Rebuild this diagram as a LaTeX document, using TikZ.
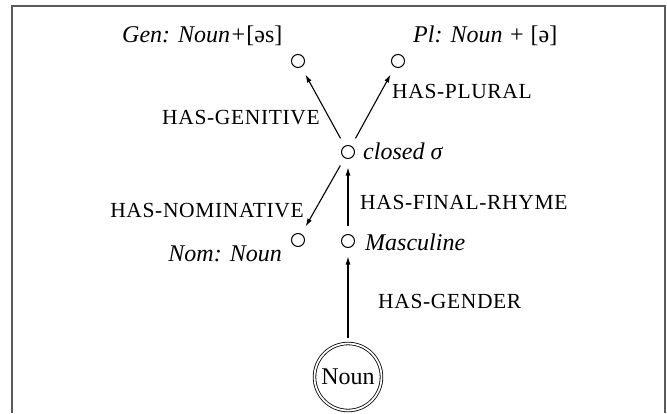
\documentclass[tikz,border=0pt]{standalone}
\usepackage{fontspec}
\setmainfont{Liberation Serif}
\newfontfamily\relfont[LetterSpace=3]{Liberation Serif}
\usetikzlibrary{arrows.meta}

\definecolor{framegray}{HTML}{5A5A5A}

\tikzset{
  state/.style={circle, draw, line width=1pt, minimum size=13pt, inner sep=0pt, outer sep=9pt},
  startstate/.style={circle, draw, line width=0.8pt, double, double distance=1.8pt,
                     minimum size=67pt, inner sep=0pt, outer sep=6pt,
                     font=\fontsize{24}{28}\selectfont},
  value/.style={inner sep=0pt, font=\fontsize{24}{28}\selectfont\itshape},
  rel/.style={inner sep=0pt, font=\relfont\fontsize{21.5}{25}\selectfont},
  link/.style={line width=1.1pt, -{Latex[length=8pt,width=5pt]}}
}

\begin{document}
\begin{tikzpicture}[x=1pt, y=-1pt]
  \useasboundingbox (0,0) rectangle (667,413);

  % open frame
  \draw[framegray, line width=2pt] (12,413) -- (12,6) -- (665,6) -- (665,413);

  % states
  \node[state] (gen) at (298,61) {};
  \node[state] (pl) at (398,61) {};
  \node[state] (closed) at (348,152) {};
  \node[state] (nom) at (298,240) {};
  \node[state] (masc) at (348,241) {};
  \node[startstate] (noun) at (348,377) {Noun};

  % state values
  \node[value, anchor=base west] (genv) at (122,42) {Gen: Noun+\textup{[əs]}};
  \node[value, anchor=base west] (plv) at (413,42) {Pl: Noun + \textup{[ə]}};
  \node[value, anchor=base west] (closedv) at (363,159) {closed σ};
  \node[value, anchor=base east] (nomv) at (282,261) {Nom: Noun};
  \node[value, anchor=base west] (mascv) at (365,250) {Masculine};

  % relations
  \draw[link] (noun) -- (masc);
  \draw[link] (masc) -- (closed);
  \draw[link] (closed) -- (nom);
  \draw[link] (closed) -- (gen);
  \draw[link] (closed) -- (pl);

  \node[rel, anchor=base west] (lgender) at (378,308) {HAS-GENDER};
  \node[rel, anchor=base west] (lrhyme) at (360,209) {HAS-FINAL-RHYME};
  \node[rel, anchor=base east] (lnom) at (304,217) {HAS-NOMINATIVE};
  \node[rel, anchor=base east] (lgen) at (320,124) {HAS-GENITIVE};
  \node[rel, anchor=base west] (lpl) at (392,98) {HAS-PLURAL};
\end{tikzpicture}
\end{document}
